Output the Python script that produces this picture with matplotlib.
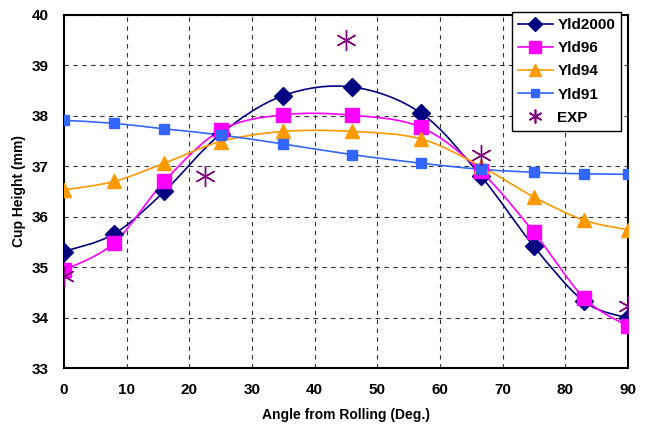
import numpy as np
import matplotlib.pyplot as plt
from matplotlib.path import Path
from matplotlib.patches import PathPatch
from matplotlib.lines import Line2D

plt.rcParams['font.family'] = ['Liberation Sans', 'DejaVu Sans']
plt.rcParams['font.weight'] = 'bold'

# angle from rolling (deg)
angle = [0, 8, 16, 25, 35, 46, 57, 66.5, 75, 83, 90]

yld2000 = [35.31, 35.66, 36.50, 37.64, 38.40, 38.57, 38.05, 36.81, 35.41, 34.32, 33.99]
yld96 = [34.94, 35.48, 36.70, 37.71, 38.02, 38.01, 37.77, 36.90, 35.69, 34.39, 33.83]
yld94 = [36.53, 36.70, 37.06, 37.49, 37.69, 37.69, 37.54, 37.00, 36.39, 35.93, 35.74]
yld91 = [37.91, 37.85, 37.74, 37.62, 37.44, 37.23, 37.06, 36.94, 36.88, 36.85, 36.84]

exp_angle = [0, 22.5, 45, 66.5, 90]
exp_height = [34.82, 36.80, 39.50, 37.23, 34.22]


def smooth_path(x, y):
    # Excel style smoothed line: bezier segments through the data points
    p = np.column_stack([x, y])
    n = len(p)
    verts = [p[0]]
    codes = [Path.MOVETO]
    for i in range(n - 1):
        p0 = p[i - 1] if i > 0 else p[i]
        p3 = p[i + 2] if i + 2 < n else p[i + 1]
        c1 = p[i] + (p[i + 1] - p0) / 6.0
        c2 = p[i + 1] - (p3 - p[i]) / 6.0
        verts += [c1, c2, p[i + 1]]
        codes += [Path.CURVE4] * 3
    return Path(verts, codes)


fig = plt.figure(figsize=(6.48, 4.25), dpi=100)
ax = fig.add_axes([0.0988, 0.134, 0.8702, 0.831])

series = [
    ('Yld2000', yld2000, '#000080', 'D', 9),
    ('Yld96', yld96, '#FF00FF', 's', 10),
    ('Yld94', yld94, '#FF9900', '^', 10),
    ('Yld91', yld91, '#3366FF', 's', 7),
]

handles = []
for name, vals, col, mk, ms in series:
    ax.add_patch(PathPatch(smooth_path(angle, vals), fill=False, edgecolor=col,
                           lw=1.2, zorder=3))
    ax.plot(angle, vals, ls='none', marker=mk, ms=ms, color=col, zorder=4)
    handles.append(Line2D([], [], color=col, lw=1.2, marker=mk, ms=ms * 0.8))

ax.plot(exp_angle, exp_height, ls='none', marker=(6, 2, 0), ms=15,
        color='#800080', mew=1.0, zorder=5)
handles.append(Line2D([], [], ls='none', color='#800080', marker=(6, 2, 0),
                      ms=10, mew=1.2))

ax.set_xlim(0, 90)
ax.set_ylim(33, 40)
ax.set_xticks(range(0, 91, 10))
ax.set_yticks(range(33, 41))
ax.grid(True, ls=(0, (4, 4)), color='#333333', lw=0.8)
ax.tick_params(length=0, labelsize=11, pad=11)
for lab in ax.get_xticklabels() + ax.get_yticklabels():
    lab.set_fontweight('bold')
for s in ax.spines.values():
    s.set_linewidth(1.5)

ax.set_xlabel('Angle from Rolling (Deg.)', fontsize=10, fontweight='bold', labelpad=8)
ax.set_ylabel('Cup Height (mm)', fontsize=10, fontweight='bold', labelpad=4)

leg = fig.legend(handles, ['Yld2000', 'Yld96', 'Yld94', 'Yld91', 'EXP'],
                 loc='upper right', bbox_to_anchor=(0.959, 0.972),
                 borderaxespad=0,
                 fancybox=False, framealpha=1, edgecolor='black',
                 prop={'weight': 'bold', 'size': 11}, handlelength=2.3,
                 borderpad=0.4, labelspacing=0.6, handletextpad=0.3)
leg.get_frame().set_linewidth(1.0)

plt.savefig('out.png', dpi=100)
